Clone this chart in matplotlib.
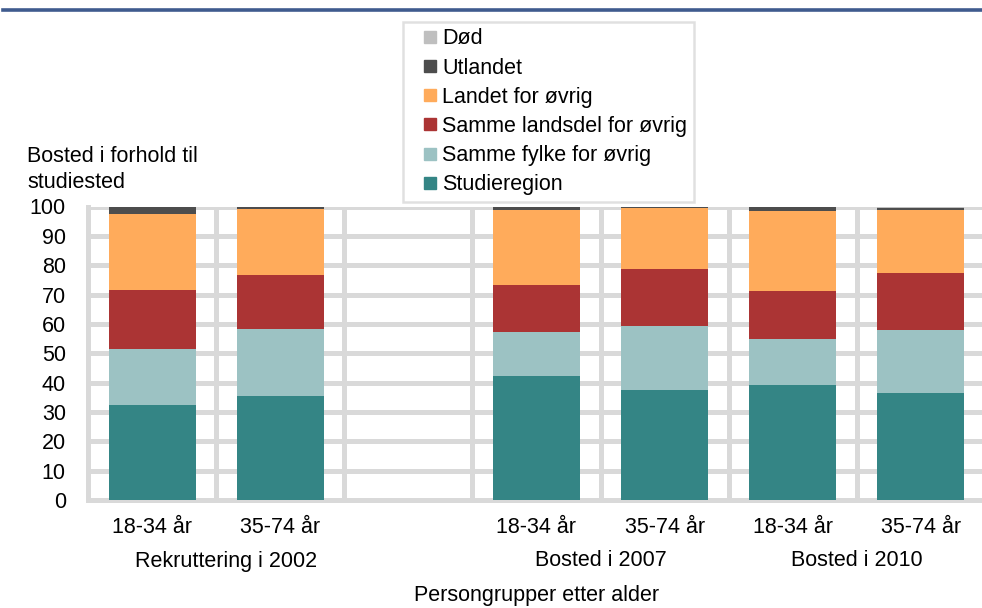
import matplotlib
matplotlib.use("Agg")
import matplotlib.pyplot as plt
from matplotlib.lines import Line2D
import numpy as np

plt.rcParams['font.family'] = ['Liberation Sans', 'DejaVu Sans']

categories = ["18-34 år", "35-74 år", "", "18-34 år", "35-74 år", "18-34 år", "35-74 år"]
groups = ["Rekruttering i 2002", "Bosted i 2007", "Bosted i 2010"]
group_pos = [0.58, 3.5, 5.5]

series_names = ["Studieregion", "Samme fylke for øvrig", "Samme landsdel for øvrig",
                "Landet for øvrig", "Utlandet", "Død"]
colors = ["#348585", "#9cc2c3", "#ab3434", "#ffab5b", "#4d4d4d", "#bfbfbf"]

studieregion = [32.3, 35.5, 0, 42.3, 37.5, 39.2, 36.5]
samme_fylke = [19.0, 22.7, 0, 14.8, 21.9, 15.5, 21.5]
samme_landsdel = [20.1, 18.3, 0, 16.3, 19.2, 16.5, 19.4]
landet = [25.9, 22.5, 0, 25.4, 20.8, 27.1, 21.4]
utlandet = [2.7, 0.9, 0, 1.2, 0.4, 1.5, 0.6]
dod = [0.1, 0.1, 0, 0.1, 0.2, 0.2, 0.6]

series = [studieregion, samme_fylke, samme_landsdel, landet, utlandet, dod]

FS = 15.5
fig = plt.figure(figsize=(9.82, 6.08), dpi=100)
W, H = 982, 608
ax = fig.add_axes([88 / W, 108 / H, (985 - 88) / W, 293.5 / H])

x = np.arange(len(categories))
bottom = np.zeros(len(categories))
for name, vals, c in zip(series_names, series, colors):
    v = np.array(vals, dtype=float)
    ax.bar(x, v, width=0.68, bottom=bottom, color=c, label=name, zorder=3)
    bottom += v

ax.set_xlim(-0.5, 6.5)
ax.set_ylim(0, 100)
ax.set_yticks(np.arange(0, 101, 10))
ax.set_xticks(x)
ax.set_xticklabels(categories)
ax.set_xticks(np.arange(0.5, 6.5, 1), minor=True)
ax.set_axisbelow(True)
grid_c = "#d9d9d9"
ax.grid(axis='y', which='major', color=grid_c, linewidth=3.6, zorder=0)
ax.grid(axis='x', which='minor', color=grid_c, linewidth=3.6, zorder=0)
ax.grid(axis='x', which='major', visible=False)
for s in ['top', 'right']:
    ax.spines[s].set_visible(False)
for s in ['left', 'bottom']:
    ax.spines[s].set_color(grid_c)
    ax.spines[s].set_linewidth(3.6)
ax.tick_params(axis='both', which='both', length=0, labelsize=FS, colors='black')
ax.tick_params(axis='x', pad=12)
ax.tick_params(axis='y', pad=16)

for g, p in zip(groups, group_pos):
    ax.text(p, 1 - (561 - 206.5) / 293.5, g, transform=ax.get_xaxis_transform(),
            ha='center', va='center', fontsize=FS)

fig.text(537 / W, 1 - 595 / H, "Persongrupper etter alder", ha='center', va='center', fontsize=FS)
fig.text(27 / W, 1 - 146 / H, "Bosted i forhold til\nstudiested", ha='left', va='top',
         fontsize=FS, linespacing=1.3)

# header rule
fig.add_artist(Line2D([3 / W, 1.0], [1 - 9.5 / H, 1 - 9.5 / H], color="#3f5b8e",
                      linewidth=2.6, transform=fig.transFigure))

handles = [Line2D([], [], linestyle='none', marker='s', markersize=9.2,
                  markerfacecolor=c, markeredgecolor=c) for c in colors]
leg = fig.legend(handles[::-1], series_names[::-1], loc='upper left',
                 bbox_to_anchor=(403 / W, 1 - 22 / H), fontsize=FS,
                 frameon=True, fancybox=False, handlelength=1.9,
                 handletextpad=-0.38, labelspacing=0.38, borderpad=0.3, borderaxespad=0)
leg.get_frame().set_edgecolor(grid_c)
leg.get_frame().set_linewidth(1.8)

fig.savefig("out.png", dpi=100)
